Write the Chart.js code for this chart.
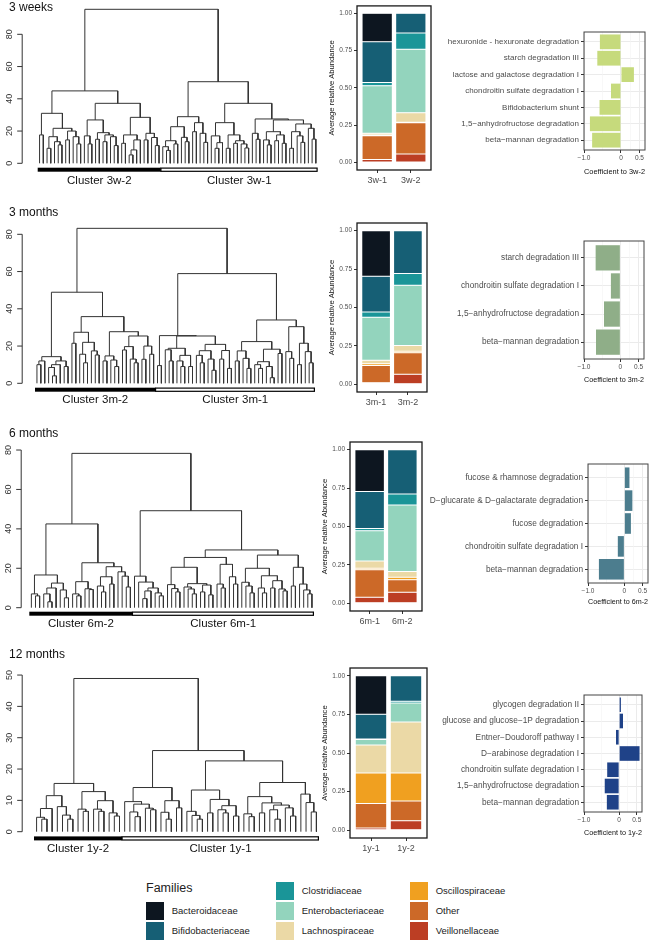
<!DOCTYPE html>
<html>
<head>
<meta charset="utf-8">
<script src="https://cdn.jsdelivr.net/npm/chart.js@4"></script>
<style>
  html, body { margin: 0; background: #fff; }
  #wrap { position: relative; width: 652px; height: 941px; font-family: 'Liberation Sans', Arial, sans-serif; }
  canvas { position: absolute; }
  .rowtitle { position: absolute; left: 9px; font-size: 12px; line-height: 14px; color: #111; }
  .legtitle { position: absolute; font-size: 12.5px; color: #222; }
  .sw { position: absolute; width: 18px; height: 18px; }
  .lab { position: absolute; font-size: 9.5px; line-height: 18px; color: #222; }
</style>
</head>
<body>
<div id="wrap"></div>
<script>
// ---- data ----
var rowTitles = ['3 weeks', '3 months', '6 months', '12 months'];

// dendrograms: [mergeHeight, left, right], leaf = 0
var tree3w = [95.5,
  [44.9,
    [31, [17.6, 0, 0], [21.7, [16.5, [9.3, 0, 0], [13.4, 0, [11.4, 0, 0]]], [20, [14.5, 0, 0], [16.5, 0, [12, 0, 0]]]]],
    [37.2,
      [26.9, [17, 0, [12, 0, 0]], [19, [14.9, 0, 0], [17.6, [13.4, 0, 0], [16.5, 0, [11, 0, 0]]]]],
      [28.5, [17.6, [12.4, 0, 0], [14.5, [8.3, [5.2, 0, 0], 0], 0]], [18.6, [14.5, 0, 0], [16, 0, [11, 0, 0]]]]]],
  [50.6,
    [28.9,
      [22.7, [14, [10.3, 0, [8, 0, 0]], [12, 0, 0]], [16.1, 0, [13.4, 0, 0]]],
      [25.2, [19.6, 0, 0], [18.6, 0, [13, 0, 0]]]],
    [37.2,
      [25.2, [17, 0, [12.8, [9.3, 0, 0], 0]], [17.6, [9.3, 0, 0], [14, [12.4, 0, 0], [12, 0, [9.5, 0, 0]]]]],
      [27.5, [18.6, 0, [14.9, 0, 0]],
        [26.9, [19.6, [14.5, 0, [11.4, 0, 0]], [17.6, [14, 0, 0], [12.4, 0, 0]]],
               [24.4, [19.6, [9.3, 0, 0], [17, 0, [13, 0, 0]]], [21.7, 0, [15, 0, 0]]]]]]]];

var tree3m = [83.2,
  [48.9,
    [14.3, [12, [10, 0, 0], 0], [12, [10, [8.5, 0, [4, 0, 0]], 0], [9, 0, 0]]],
    [35.8,
      [27.4, [21.5, 0, 0], [22, [15.6, 0, [11, 0, 0]], [17.4, 0, [15.2, 0, 0]]]],
      [27.7, [14.7, [12, 0, 0], [12.5, 0, [9, 0, 0]]],
             [25.4, [19.7, [17.9, 0, 0], [13, 0, [11, 0, 0]]], [20, [12.9, 0, 0], [15.6, 0, 0]]]]]],
  [58.9,
    [25.6, [9.5, 0, 0],
           [25.4, [18.8, [18, 0, [12, 0, 0]], [15, [12, 0, [9, 0, 0]], [9, 0, 0]]],
                  [20.9, [17.5, [15, 0, [11, 0, 0]], [13, 0, [7, 0, 0]]], [17.6, [13, 0, 0], [8, 0, 0]]]]],
    [34, [22.4, [17.4, [12, 0, 0], [13.4, 0, [8, 0, 0]]], [18.3, [11.6, [10, 0, [8, 0, 0]], [9, 0, [3, 0, 0]]], [16, 0, 0]]],
         [30.4, [17, 0, [13.4, 0, 0]], [21.5, [10, 0, 0], [17, 0, [11, 0, 0]]]]]]];

var tree6m = [78.3,
  [42.5,
    [16.6, [7, 0, [6, 0, 0]], [12.5, [10, [7, 0, [3, 0, 0]], 0], [9, 0, [5, 0, 0]]]],
    [22.8, [13.2, [7, 0, [6, 0, 0]], [9.6, 0, [9.2, 0, 0]]],
           [20.8, [15.7, [11, 0, [8, 0, 0]], [12, 0, 0]], [18.2, 0, [16, 0, [10.5, 0, 0]]]]]],
  [49.2,
    [16, 0, [13, 0, [10, [8.5, [4.6, 0, 0], 0], [7.5, 0, [6, 0, 0]]]]],
    [29.3,
      [25.5, [20.5, [11.7, 0, [9.7, 0, [8, 0, 0]]], [12.2, [10.5, 0, [9.5, 0, [7, 0, 0]]], [11.5, [8, 0, 0], [6.5, 0, 0]]]],
             [22, [12, 0, [10, 0, 0]], [15.7, 0, [12, 0, 0]]]],
      [26.7, [20, [12.9, 0, [11, 0, [7.5, 0, 0]]], [16.2, [10, 0, [7.5, 0, 0]], [13.7, [10, 0, 0], [9.5, 0, [8.5, 0, 0]]]]],
             [20.5, [11, 0, 0], [12, 0, [9, 0, [7, 0, 0]]]]]]]];

var tree1y = [48.9,
  [15.4,
    [11.5, [7.4, [4.6, 0, [4, 0, 0]], 0], [8, 0, [5.3, 0, [4, 0, 0]]]],
    [12.8, [7.2, 0, [6.5, 0, 0]], [9.9, [7.2, 0, [6.5, 0, 0]], [6, 0, [5, 0, 0]]]]],
  [25.9,
    [14.1, [9.6, 0, [8.8, [6.3, 0, [4.8, 0, 0]], [7.5, 0, [7, 0, 0]]]],
           [9.9, [6.2, 0, [4, 0, 0]], [7.6, 0, 0]]],
    [22.6,
      [13.3, [6.5, 0, [5.2, 0, [4, 0, 0]]], [10.3, [6, 0, 0], [8.3, [7, 0, [6, 0, 0]], [5, 0, 0]]]],
      [15.7, [11.2, [5.7, 0, [4.8, 0, 0]], [9.2, [6, 0, 0], [8.5, [7, 0, [4, 0, 0]], [7.6, 0, [5, 0, 0]]]]],
             [12, 0, [9.3, 0, [6.3, 0, 0]]]]]]];

var dendroTicks80 = [0, 20, 40, 60, 80];
var dendroTicks50 = [0, 10, 20, 30, 40, 50];
var clusters3w = ['Cluster 3w-2', 'Cluster 3w-1'];
var clusters3m = ['Cluster 3m-2', 'Cluster 3m-1'];
var clusters6m = ['Cluster 6m-2', 'Cluster 6m-1'];
var clusters1y = ['Cluster 1y-2', 'Cluster 1y-1'];

// families (legend order) and colours
var families = ['Bacteroidaceae', 'Bifidobacteriaceae', 'Clostridiaceae', 'Enterobacteriaceae',
                'Lachnospiraceae', 'Oscillospiraceae', 'Other', 'Veillonellaceae'];
var familyColors = ['#0d1620', '#165f75', '#1a9598', '#93d4bd', '#ebd9a6', '#f0a020', '#cc6928', '#bc3e24'];

// average relative abundance, in family order
var groups3w = ['3w-1', '3w-2'];
var abund3w1 = [0.191, 0.273, 0.022, 0.317, 0.012, 0.005, 0.160, 0.020];
var abund3w2 = [0.000, 0.131, 0.109, 0.426, 0.064, 0.003, 0.210, 0.057];
var groups3m = ['3m-1', '3m-2'];
var abund3m1 = [0.297, 0.233, 0.033, 0.281, 0.022, 0.011, 0.112, 0.011];
var abund3m2 = [0.000, 0.279, 0.076, 0.392, 0.037, 0.010, 0.141, 0.065];
var groups6m = ['6m-1', '6m-2'];
var abund6m1 = [0.273, 0.240, 0.015, 0.197, 0.046, 0.011, 0.179, 0.039];
var abund6m2 = [0.000, 0.288, 0.072, 0.433, 0.037, 0.017, 0.081, 0.072];
var groups1y = ['1y-1', '1y-2'];
var abund1y1 = [0.250, 0.160, 0.003, 0.035, 0.182, 0.196, 0.159, 0.015];
var abund1y2 = [0.000, 0.165, 0.011, 0.124, 0.330, 0.181, 0.128, 0.061];
var stackTicks = [0, 0.25, 0.5, 0.75, 1];

// pathway coefficients
var paths3w = ['hexuronide - hexuronate degradation', 'starch degradation III', 'lactose and galactose degradation I',
               'chondroitin sulfate degradation I', 'Bifidobacterium shunt', '1,5\u2212anhydrofructose degradation',
               'beta\u2212mannan degradation'];
var coef3w = [-0.57, -0.64, 0.35, -0.27, -0.58, -0.84, -0.78];
var paths3m = ['starch degradation III', 'chondroitin sulfate degradation I', '1,5\u2212anhydrofructose degradation',
               'beta\u2212mannan degradation'];
var coef3m = [-0.68, -0.26, -0.45, -0.67];
var paths6m = ['fucose & rhamnose degradation', 'D\u2212glucarate & D\u2212galactarate degradation', 'fucose degradation',
               'chondroitin sulfate degradation I', 'beta\u2212mannan degradation'];
var coef6m = [0.14, 0.22, 0.18, -0.18, -0.70];
var paths1y = ['glycogen degradation II', 'glucose and glucose\u22121P degradation', 'Entner\u2212Doudoroff pathway I',
               'D\u2212arabinose degradation I', 'chondroitin sulfate degradation I', '1,5\u2212anhydrofructose degradation',
               'beta\u2212mannan degradation'];
var coef1y = [0.05, 0.11, -0.09, 0.58, -0.34, -0.41, -0.35];
var coefBreaks = [-1, 0, 0.5];
var coefMinor = [-0.5, 0.25];

// ---- layout ----
var dendroLayout = [
  {top: 0,   height: 195, zero: 163.3, unit: 1.6125, left: 37.7, right: 317.7, axisX: 21.7, barOffset: 6.4, labelGap: 11},
  {top: 205, height: 205, zero: 383.3, unit: 1.8625, left: 35,   right: 315,   axisX: 21.7, barOffset: 6.4, labelGap: 10.5},
  {top: 430, height: 205, zero: 607.7, unit: 1.971,  left: 29.3, right: 314,   axisX: 20.7, barOffset: 6,   labelGap: 9.8},
  {top: 650, height: 210, zero: 831.7, unit: 3.133,  left: 34,   right: 319,   axisX: 21.7, barOffset: 6.7, labelGap: 10}
];
var stackLayout = [
  {top: 0,   l: 357, r: 431, t: 3,   b: 170},
  {top: 205, l: 357, r: 427, t: 223, b: 392},
  {top: 430, l: 350, r: 422, t: 442, b: 611},
  {top: 650, l: 350, r: 427, t: 668, b: 838}
];
var coefLayout = [
  {top: 0,   l: 584, r: 645, t: 32,  b: 150, titleY: 172, font: 8},
  {top: 205, l: 584, r: 644, t: 241, b: 359, titleY: 380, font: 8.3},
  {top: 430, l: 588, r: 648, t: 464, b: 583, titleY: 602, font: 8.3},
  {top: 650, l: 584, r: 642, t: 695, b: 812, titleY: 833, font: 8.3}
];
var titleTops = [0, 205, 426, 647];

Chart.defaults.font.family = "'Liberation Sans', Arial, sans-serif";
var wrap = document.getElementById('wrap');

function makeCanvas(left, top, w, h) {
  var c = document.createElement('canvas');
  c.width = w; c.height = h;
  c.style.left = left + 'px'; c.style.top = top + 'px';
  c.style.width = w + 'px'; c.style.height = h + 'px';
  wrap.appendChild(c);
  return c;
}

function countLeaves(node) {
  return node === 0 ? 1 : countLeaves(node[1]) + countLeaves(node[2]);
}

// U-shaped links from the tree, leaves at 1..n
function dendroLines(tree) {
  var pts = [], leaf = 0;
  function walk(node) {
    if (node === 0) { leaf++; return {x: leaf, h: 0}; }
    var a = walk(node[1]), b = walk(node[2]), h = node[0];
    pts.push({x: a.x, y: a.h}, {x: a.x, y: h}, {x: b.x, y: h}, {x: b.x, y: b.h}, {x: b.x, y: null});
    return {x: (a.x + b.x) / 2, h: h};
  }
  walk(tree);
  return {points: pts, leaves: leaf};
}

function dendroDecor(o) {
  return {
    id: 'dendroDecor',
    afterDatasetsDraw: function (chart) {
      var ctx = chart.ctx, xs = chart.scales.x, ys = chart.scales.y;
      ctx.save();
      // R style y axis
      ctx.strokeStyle = '#333'; ctx.lineWidth = 1;
      ctx.beginPath();
      ctx.moveTo(o.axisX + 0.5, ys.getPixelForValue(o.ticks[0]));
      ctx.lineTo(o.axisX + 0.5, ys.getPixelForValue(o.ticks[o.ticks.length - 1]));
      o.ticks.forEach(function (v) {
        var p = ys.getPixelForValue(v);
        ctx.moveTo(o.axisX + 0.5, p); ctx.lineTo(o.axisX - 4.5, p);
      });
      ctx.stroke();
      ctx.fillStyle = '#333'; ctx.font = "9px 'Liberation Sans'";
      ctx.textAlign = 'center'; ctx.textBaseline = 'middle';
      o.ticks.forEach(function (v) {
        ctx.save();
        ctx.translate(o.axisX - 11.7, ys.getPixelForValue(v));
        ctx.rotate(-Math.PI / 2);
        ctx.fillText(String(v), 0, 0);
        ctx.restore();
      });
      // cluster bar
      var yb = ys.getPixelForValue(o.barValue);
      var x0 = xs.getPixelForValue(0.5), x1 = xs.getPixelForValue(o.nLeft + 0.5), x2 = xs.getPixelForValue(o.n + 0.5);
      ctx.fillStyle = '#000';
      ctx.fillRect(x0, yb - 2, x1 - x0, 4);
      ctx.fillStyle = '#fff';
      ctx.fillRect(x1, yb - 2, x2 - x1, 4);
      ctx.strokeStyle = '#000'; ctx.lineWidth = 1.2;
      ctx.strokeRect(x1, yb - 1.6, x2 - x1 - 0.6, 3.2);
      // cluster labels
      ctx.fillStyle = '#111'; ctx.font = "11.5px 'Liberation Sans'";
      ctx.fillText(o.labels[0], (x0 + x1) / 2, yb + o.labelGap);
      ctx.fillText(o.labels[1], (x1 + x2) / 2, yb + o.labelGap);
      ctx.restore();
    }
  };
}

function panelBorder(color, width) {
  return {
    id: 'panelBorder',
    afterDraw: function (chart) {
      var a = chart.chartArea, ctx = chart.ctx;
      ctx.save();
      ctx.strokeStyle = color; ctx.lineWidth = width;
      ctx.strokeRect(a.left, a.top, a.right - a.left, a.bottom - a.top);
      ctx.restore();
    }
  };
}

function drawDendro(tree, labels, ticks, L) {
  var res = dendroLines(tree);
  var n = res.leaves;
  var zero = L.zero - L.top;
  var c = makeCanvas(0, L.top, 330, L.height);
  new Chart(c, {
    type: 'scatter',
    data: {datasets: [{
      data: res.points, showLine: true, spanGaps: false, tension: 0,
      borderColor: '#333', borderWidth: 1, pointRadius: 0, borderCapStyle: 'butt', borderJoinStyle: 'miter'
    }]},
    options: {
      responsive: false, animation: false, events: [],
      layout: {padding: {left: L.left, right: 330 - L.right, top: 2, bottom: L.height - zero - 12}},
      scales: {
        x: {type: 'linear', display: false, min: 0.5, max: n + 0.5},
        y: {type: 'linear', display: false, min: -12 / L.unit, max: (zero - 2) / L.unit}
      },
      plugins: {legend: {display: false}, tooltip: {enabled: false}}
    },
    plugins: [dendroDecor({
      ticks: ticks, axisX: L.axisX, barValue: -L.barOffset / L.unit,
      nLeft: countLeaves(tree[1]), n: n, labels: labels, labelGap: L.labelGap
    })]
  });
}

function drawStack(groups, values, L) {
  var left = L.l - 32, w = L.r + 4 - left, h = L.b + 18 - L.top;
  var c = makeCanvas(left, L.top, w, h);
  var datasets = families.map(function (f, i) {
    return {
      label: f, stack: 's',
      data: groups.map(function (g, j) { return {x: j + 1, y: values[j][i]}; }),
      backgroundColor: familyColors[i], borderColor: '#fff', borderWidth: 0.5, borderSkipped: false,
      barPercentage: 0.9, categoryPercentage: 1
    };
  }).reverse();
  new Chart(c, {
    type: 'bar',
    data: {datasets: datasets},
    options: {
      responsive: false, animation: false, events: [],
      layout: {padding: {left: 0, right: 4, top: L.t - L.top, bottom: 0}},
      scales: {
        x: {
          type: 'linear', offset: false, bounds: 'data', min: 0.4, max: 2.6,
          afterBuildTicks: function (ax) { ax.ticks = groups.map(function (g, i) { return {value: i + 1}; }); },
          ticks: {callback: function (v) { return groups[v - 1]; }, font: {size: 9}, color: '#4d4d4d', padding: 2, autoSkip: false, maxRotation: 0},
          grid: {offset: false, drawOnChartArea: false, tickLength: 3, tickColor: '#333'},
          border: {display: false},
          afterFit: function (s) { s.height = 18; }
        },
        y: {
          type: 'linear', stacked: true, min: -0.05, max: 1.05,
          afterBuildTicks: function (ax) { ax.ticks = stackTicks.map(function (v) { return {value: v}; }); },
          ticks: {callback: function (v) { return v.toFixed(2); }, font: {size: 6.5}, color: '#4d4d4d', padding: 2},
          grid: {drawOnChartArea: false, tickLength: 3, tickColor: '#333'},
          border: {display: false},
          title: {display: true, text: 'Average relative Abundance', font: {size: 7.6}, color: '#111', padding: {top: 2, bottom: 0}},
          afterFit: function (s) { s.width = 32; }
        }
      },
      plugins: {legend: {display: false}, tooltip: {enabled: false}}
    },
    plugins: [panelBorder('#1a1a1a', 1.3)]
  });
}

function drawCoef(paths, coefs, color, group, L) {
  var n = paths.length;
  var h = L.titleY + 10 - L.top;
  var c = makeCanvas(420, L.top, 232, h);
  var grid = coefBreaks.concat(coefMinor).sort(function (a, b) { return a - b; });
  function isMajor(v) { return coefBreaks.indexOf(v) >= 0; }
  new Chart(c, {
    type: 'bar',
    data: {datasets: [{
      data: paths.map(function (p, i) { return {x: coefs[i], y: i + 1}; }),
      backgroundColor: color, borderWidth: 0, barPercentage: 0.9, categoryPercentage: 1
    }]},
    options: {
      indexAxis: 'y', responsive: false, animation: false, events: [],
      layout: {padding: {left: 0, right: 652 - L.r, top: L.t - L.top, bottom: L.top + h - L.titleY - 4.8}},
      scales: {
        y: {
          type: 'linear', offset: false, bounds: 'data', reverse: true, min: 0.4, max: n + 0.6,
          afterBuildTicks: function (ax) { ax.ticks = paths.map(function (p, i) { return {value: i + 1}; }); },
          ticks: {callback: function (v) { return paths[v - 1]; }, font: {size: L.font}, color: '#4d4d4d', padding: 2, autoSkip: false},
          grid: {offset: false, color: '#ebebeb', lineWidth: 1, tickLength: 3, tickColor: '#333'},
          border: {display: false},
          afterFit: function (s) { s.width = L.l - 420; }
        },
        x: {
          type: 'linear', min: -1, max: 0.65,
          afterBuildTicks: function (ax) { ax.ticks = grid.map(function (v) { return {value: v}; }); },
          ticks: {
            callback: function (v) { return v === -1 ? '\u22121.0' : v === 0 ? '0' : v === 0.5 ? '0.5' : ''; },
            font: {size: 6.5}, color: '#4d4d4d', padding: 1.5, autoSkip: false, maxRotation: 0
          },
          grid: {
            color: function (ctx) { return isMajor(ctx.tick.value) ? '#ebebeb' : '#f3f3f3'; },
            lineWidth: function (ctx) { return isMajor(ctx.tick.value) ? 1 : 0.6; },
            tickColor: function (ctx) { return isMajor(ctx.tick.value) ? '#333' : 'rgba(0,0,0,0)'; },
            tickLength: 3
          },
          border: {display: false},
          title: {display: true, text: 'Coefficient to ' + group, font: {size: 8}, color: '#111', padding: {top: 0, bottom: 0}},
          afterFit: function (s) { s.height = L.titleY + 4.8 - L.b; }
        }
      },
      plugins: {legend: {display: false}, tooltip: {enabled: false}}
    },
    plugins: [panelBorder('#444', 1)]
  });
}

// ---- draw ----
drawDendro(tree3w, clusters3w, dendroTicks80, dendroLayout[0]);
drawDendro(tree3m, clusters3m, dendroTicks80, dendroLayout[1]);
drawDendro(tree6m, clusters6m, dendroTicks80, dendroLayout[2]);
drawDendro(tree1y, clusters1y, dendroTicks50, dendroLayout[3]);

drawStack(groups3w, [abund3w1, abund3w2], stackLayout[0]);
drawStack(groups3m, [abund3m1, abund3m2], stackLayout[1]);
drawStack(groups6m, [abund6m1, abund6m2], stackLayout[2]);
drawStack(groups1y, [abund1y1, abund1y2], stackLayout[3]);

drawCoef(paths3w, coef3w, '#c6da7c', '3w-2', coefLayout[0]);
drawCoef(paths3m, coef3m, '#8fae88', '3m-2', coefLayout[1]);
drawCoef(paths6m, coef6m, '#4c7d8e', '6m-2', coefLayout[2]);
drawCoef(paths1y, coef1y, '#1f4288', '1y-2', coefLayout[3]);

rowTitles.forEach(function (t, i) {
  var d = document.createElement('div');
  d.className = 'rowtitle'; d.style.top = titleTops[i] + 'px'; d.textContent = t;
  wrap.appendChild(d);
});

// legend: title in the first slot, then families column by column
var legCols = [146, 276, 410], legRows = [881.7, 901.7, 921.7];
var lt = document.createElement('div');
lt.className = 'legtitle'; lt.style.left = '146px'; lt.style.top = '881px'; lt.textContent = 'Families';
wrap.appendChild(lt);
families.forEach(function (f, i) {
  var slot = i + 1, col = Math.floor(slot / 3), row = slot % 3;
  var sw = document.createElement('div');
  sw.className = 'sw'; sw.style.background = familyColors[i];
  sw.style.left = legCols[col] + 'px'; sw.style.top = legRows[row] + 'px';
  wrap.appendChild(sw);
  var lb = document.createElement('div');
  lb.className = 'lab'; lb.textContent = f;
  lb.style.left = (legCols[col] + 25.7) + 'px'; lb.style.top = legRows[row] + 'px';
  wrap.appendChild(lb);
});
</script>
</body>
</html>
